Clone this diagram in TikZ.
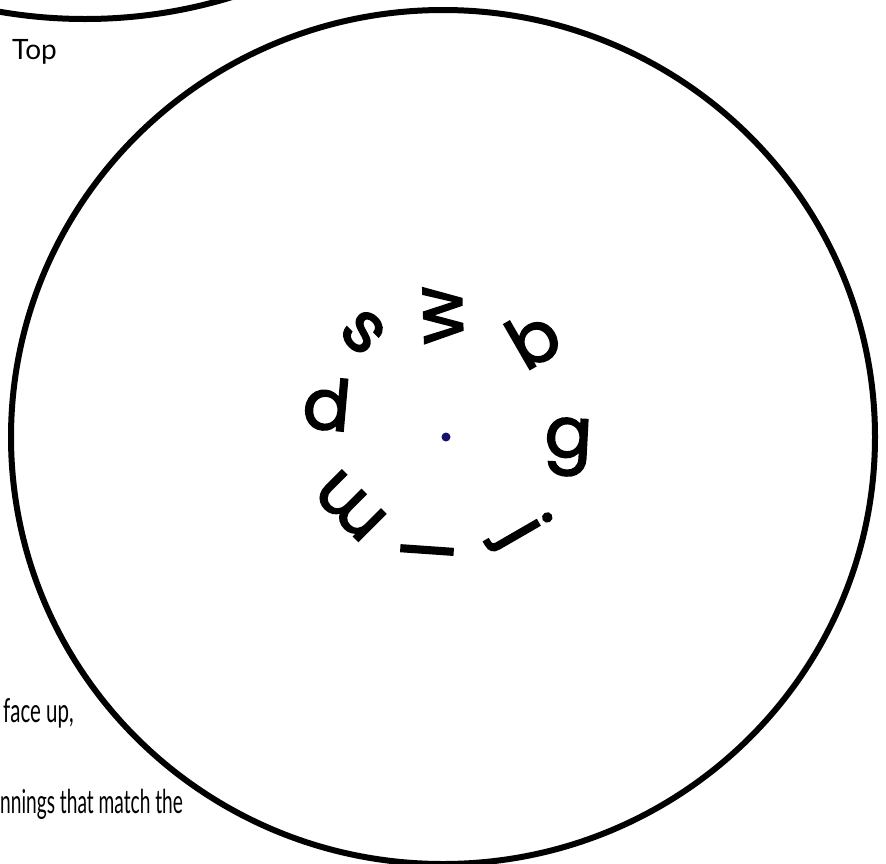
\documentclass[tikz,border=0pt]{standalone}
\usepackage{fontspec}
\setmainfont{Lato}
\newfontfamily\letterfont{Poppins}[FakeBold=2.5]
\definecolor{dotblue}{RGB}{20,20,110}
\begin{document}
\begin{tikzpicture}[x=1pt,y=-1pt,
  ring/.style={line width=6pt, draw=black},
  letter/.style={inner sep=0pt, font=\fontsize{70}{70}\letterfont},
  note/.style={inner sep=0pt, font=\fontsize{33}{33}\selectfont},
  toplabel/.style={inner sep=0pt, font=\fontsize{28}{28}\selectfont}]
\useasboundingbox (0,0) rectangle (886,863);
\clip (0,0) rectangle (886,863);
\fill[white] (0,0) rectangle (886,863);
\draw[ring] (443,437) ellipse [x radius=432, y radius=427];
\draw[ring] (85,-481) circle [radius=500];
\node[circle, fill=dotblue, inner sep=0pt, minimum size=9pt] (c) at (446,437) {};
\node[letter, rotate=-45] (s) at (363,332) {s};
\node[letter, rotate=92] (w) at (443,315) {w};
\node[letter, rotate=30] (b) at (533,338) {b};
\node[letter, rotate=-5] (d) at (327,404) {d};
\node[letter, rotate=-3] (g) at (568,447) {g};
\node[letter, rotate=-60] (j) at (520,533) {j};
\node[letter, rotate=86] (l) at (427,550) {l};
\node[letter, rotate=135] (m) at (350,506) {m};
\node[toplabel, anchor=base west] (top) at (12,59) {Top};
\node[note, anchor=base west] (face) at (3,722) {\scalebox{0.62}[1]{face up,}};
\node[note, anchor=base west] (nn) at (0,813) {\scalebox{0.58}[1]{nnings that match the}};
\end{tikzpicture}
\end{document}
